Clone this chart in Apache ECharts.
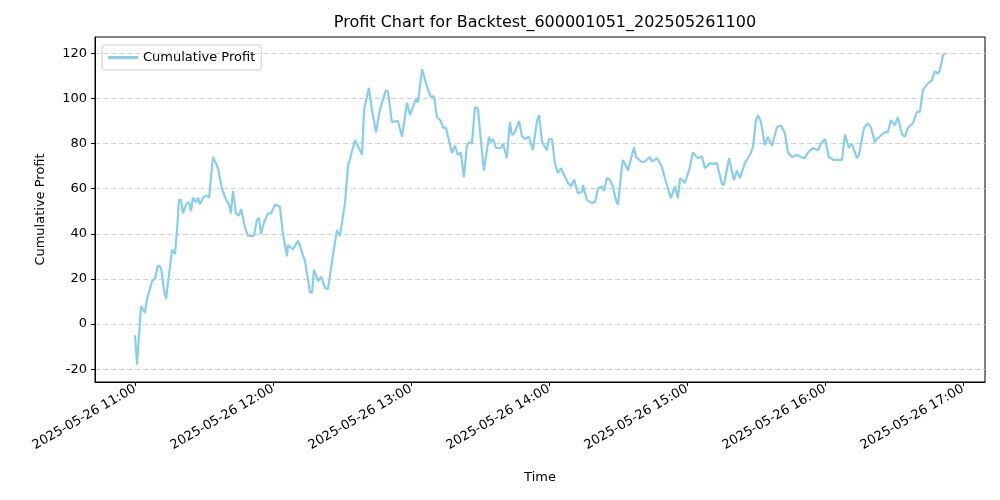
<!DOCTYPE html>
<html>
<head>
<meta charset="utf-8">
<script src="https://cdn.jsdelivr.net/npm/echarts@6/dist/echarts.min.js"></script>
</head>
<body style="margin:0">
<div id="main" style="width:1000px;height:500px;"></div>
<script>
// minutes after 2025-05-26 11:00
var minutes = [0,0.9,2.6,4.3,5.2,7.4,8.7,10,11.3,12.6,13.5,14.8,16.1,17.4,18.3,19.1,20,20.9,22.2,23.5,24.3,25.2,26.5,27.4,28.3,29.6,30.9,32.2,33.9,36.1,37.8,39.6,40.9,41.7,42.6,43.9,45.2,46.1,47.8,49.1,51.7,53,53.9,54.8,56.1,57.8,59.1,60.9,63,64.3,66.1,66.5,68.7,70.9,73.9,76.1,77,77.8,79.6,80.9,82.6,83.9,85.7,87.8,89.1,91.3,92.6,95.7,98.7,99.6,100.4,101.7,103,104.8,106.5,109.1,110,111.7,114.3,116.1,118.3,119.6,122.2,123,124.8,127,128.7,130,131.3,133,133.9,135.2,137.8,139.1,140.4,141.7,143,144.3,145.2,146.5,147.8,149.1,150.9,151.7,153.9,154.8,155.7,157,159.1,160,161.7,163,163.9,165.2,167,168.3,169.6,171.3,173,174.8,175.7,177,179.1,180,181.3,182.6,183.9,185.2,188.3,189.6,190.9,192.6,194.4,194.8,196.5,198.7,200,201.3,203,203.9,205.2,206.5,207.8,209.1,210,211.7,212.2,214.4,215.7,217,217.8,220.4,221.7,223.9,224.8,227,229.1,230.4,233,234.8,236.1,237,239.1,240.9,242.6,244.8,246.5,247.8,250,251.3,253,255.2,256.1,258.3,259.1,260.4,261.7,263,265.2,267.4,268.7,270,270.9,272.2,273.9,275.2,277,279.1,280.9,282.6,283.9,285.7,287.8,289.6,291.3,292.6,294.8,297,298.3,300,301.7,303.9,305.7,307.4,308.7,310.4,311.7,313.9,314.8,317,318.7,320,321.7,322.6,326.1,327.4,328.7,330.4,331.7,333.5,334.8,336.1,338.3,340,341.3,342.6,344.8,346.5,347.8,349.1,350,351.3,352.2];
var profit = [-5,-18,8,5,11,19,20,26,25,15,11,22,33,31,42,55,55,49,53,54,50,56,54,56,53,56,57,56,74,69,60,55,53,49,59,49,48,51,43,39,39,46,47,40,45,49,49,53,52,40,30,35,33,37,28,14,14,24,19,21,16,15.5,28,41.6,39,53.6,70,81.5,75,95,95.7,104.6,95,85,95,103.7,103,89.5,90,83,98,92.6,100,98,113,105,100.6,101,91.7,90,87,87,75.8,79,75,76,65,79,80.6,80,96,95.7,76,68,83,80.6,82,78,78,80,73.5,89.5,83.7,85,90,83,82,83,77,90,92.6,80.6,77,82,82,71,67,69,62.5,61,64,58,58.5,61.6,55,53.6,54,60,61,59,64.7,64,61,55,52.7,69.6,72.7,68,73.5,78.4,74,71.8,72,74,72,73.5,69.6,64.7,55.8,61,55.8,64.7,62.5,68,76,73.5,74.4,69,71.3,71,71.3,62,61.6,73.5,73.5,63.8,68,64.7,71.3,75,78.4,90.4,92.6,89.5,79.3,82.9,78.9,87.3,88,84.6,76,74,75,74,73.5,76,78,77,80,82,74,72.7,72.7,72.7,84,78,80,73.5,75,87,89,87,80.6,82,85,85,90.4,88,91.7,84,83,87,89,94,94,103.7,106.8,108,112,111,112.5,119,120];
var xTicks = [0,60,120,180,240,300,360];
var xTickLabels = ['2025-05-26 11:00','2025-05-26 12:00','2025-05-26 13:00','2025-05-26 14:00','2025-05-26 15:00','2025-05-26 16:00','2025-05-26 17:00'];
var yTicks = [-20,0,20,40,60,80,100,120];

var chart = echarts.init(document.getElementById('main'));
var font = 'DejaVu Sans';
chart.setOption({
    animation: false,
    textStyle: {fontFamily: font},
    title: {
        text: 'Profit Chart for Backtest_600001051_202505261100',
        left: 540, top: 10, textAlign: 'center',
        textStyle: {fontSize: 16, fontWeight: 'normal', color: '#000', fontFamily: font}
    },
    legend: {
        left: 102, top: 45, orient: 'vertical',
        borderColor: '#ccc', borderWidth: 1, borderRadius: 3, padding: [6, 6, 6, 6],
        itemWidth: 30, itemHeight: 3,
        textStyle: {fontSize: 13, color: '#000'},
        data: [{name: 'Cumulative Profit', icon: 'rect'}]
    },
    grid: {left: 95, right: 15, top: 37, bottom: 118, show: true, borderColor: '#000', borderWidth: 1},
    xAxis: {
        type: 'value', min: -17.4, max: 369.6,
        name: 'Time', nameLocation: 'middle', nameGap: 89,
        nameTextStyle: {fontSize: 13, color: '#000'},
        axisLine: {show: true, onZero: false, lineStyle: {color: '#000'}},
        axisTick: {show: true, customValues: xTicks, length: 4, lineStyle: {color: '#000'}},
        axisLabel: {customValues: xTicks, rotate: 30, fontSize: 13, color: '#000', margin: 6,
            formatter: function (v) { return xTickLabels[xTicks.indexOf(v)]; }},
        splitLine: {show: false}
    },
    yAxis: {
        type: 'value', min: -25.7, max: 127.2,
        name: 'Cumulative Profit', nameLocation: 'middle', nameGap: 48,
        nameTextStyle: {fontSize: 13, color: '#000'},
        axisLine: {show: true, onZero: false, lineStyle: {color: '#000'}},
        axisTick: {show: true, customValues: yTicks, length: 4, lineStyle: {color: '#000'}},
        axisLabel: {customValues: yTicks, fontSize: 13, color: '#000'},
        splitLine: {show: true, lineStyle: {color: '#d0d0d0', type: [5, 3]}}
    },
    series: [{
        name: 'Cumulative Profit', type: 'line', showSymbol: false,
        lineStyle: {color: '#87CEEB', width: 2.2}, itemStyle: {color: '#87CEEB'},
        data: minutes.map(function (m, i) { return [m, profit[i]]; })
    }]
});
</script>
</body>
</html>
